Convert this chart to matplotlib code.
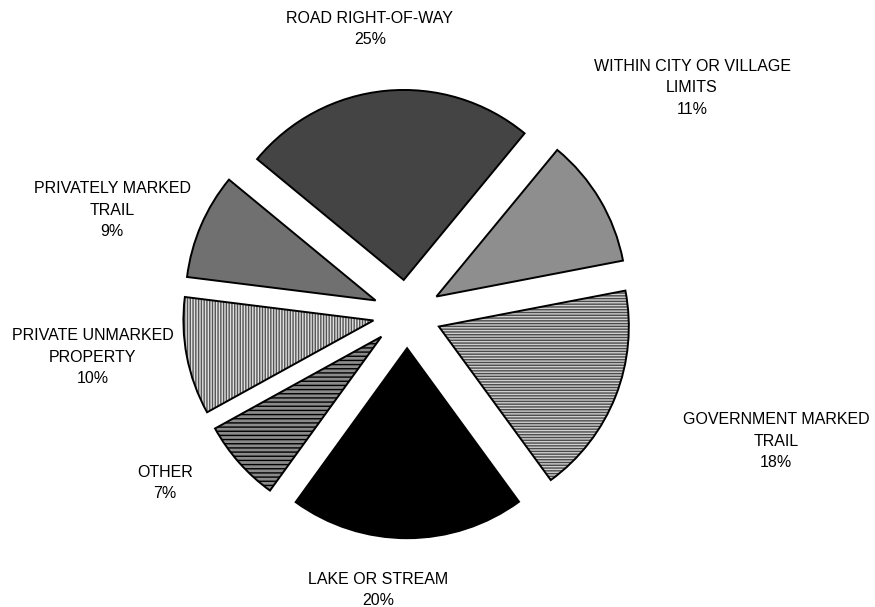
import matplotlib
matplotlib.use("Agg")
import matplotlib.pyplot as plt

plt.rcParams['font.family'] = ['Liberation Sans', 'DejaVu Sans']
plt.rcParams['hatch.linewidth'] = 1.0

# ---- data ----
categories = ["ROAD RIGHT-OF-WAY", "WITHIN CITY OR VILLAGE\nLIMITS",
              "GOVERNMENT MARKED\nTRAIL", "LAKE OR STREAM", "OTHER",
              "PRIVATE UNMARKED\nPROPERTY", "PRIVATELY MARKED\nTRAIL"]
values = [25, 11, 18, 20, 7, 10, 9]

# ---- styles ----
face_colors = ['#444444', '#8e8e8e', '#d0d0d0', '#000000', '#8a8a8a', '#e0e0e0', '#707070']
hatches = [None, None, '------', None, '----', '||||||', None]
hatch_colors = ['#444444', '#8e8e8e', '#4a4a4a', '#000000', '#000000', '#555555', '#707070']
# label centres in pixels (x from left, y from top)
label_pos = [(370, 29), (692, 88), (776, 441), (378, 590), (165, 483), (93, 357), (112, 210)]

W, H = 875, 607
fig = plt.figure(figsize=(W / 100, H / 100), dpi=100)
ax = fig.add_axes([0, 0, 1, 1])

cx, cy, R = 407, 314, 190
explode = [0.18] * len(values)

wedges, _ = ax.pie(values, explode=explode, startangle=140.5, counterclock=False,
                   colors=face_colors, radius=1.0,
                   wedgeprops=dict(linewidth=0))
for w, hc, h in zip(wedges, hatch_colors, hatches):
    w.set_edgecolor(hc)
    if h:
        w.set_hatch(h)

outl, _ = ax.pie(values, explode=explode, startangle=140.5, counterclock=False,
                 radius=1.0,
                 wedgeprops=dict(facecolor='none', edgecolor='black', linewidth=1.4))

ax.set_aspect('auto')
ax.set_xlim(-cx / R, (W - cx) / R)
ax.set_ylim(-(H - cy) / R, cy / R)
ax.axis('off')

total = sum(values)
for cat, v, (px, py) in zip(categories, values, label_pos):
    fig.text(px / W, 1 - py / H, f"{cat}\n{round(100 * v / total)}%",
             ha='center', va='center', multialignment='center',
             fontsize=11.5, color='black', linespacing=1.55)

fig.savefig("out.png", dpi=100, facecolor='white')
